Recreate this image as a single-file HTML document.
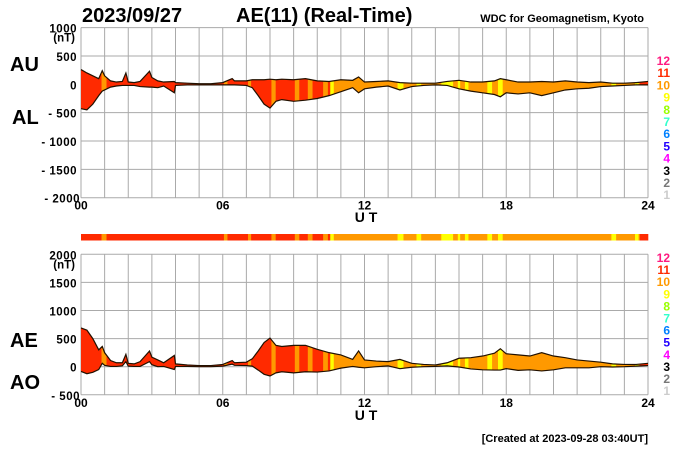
<!DOCTYPE html>
<html><head><meta charset="utf-8"><style>
body{margin:0;background:#fff;}
svg{font-family:"Liberation Sans",sans-serif;}
</style></head><body>
<svg id="chart" width="700" height="450" viewBox="0 0 700 450" xmlns="http://www.w3.org/2000/svg">
<text x="82" y="22" font-size="20" font-weight="bold">2023/09/27</text>
<text x="236" y="22" font-size="20" font-weight="bold">AE(11) (Real-Time)</text>
<text x="644" y="22" font-size="11" font-weight="bold" text-anchor="end">WDC for Geomagnetism, Kyoto</text>
<text x="10" y="71" font-size="20" font-weight="bold">AU</text>
<text x="12" y="124" font-size="20" font-weight="bold">AL</text>
<text x="10" y="347" font-size="20" font-weight="bold">AE</text>
<text x="10" y="389" font-size="20" font-weight="bold">AO</text>
<text x="366" y="222" font-size="14" font-weight="bold" text-anchor="middle">U T</text>
<text x="366" y="420" font-size="14" font-weight="bold" text-anchor="middle">U T</text>
<text x="648" y="442" font-size="11" font-weight="bold" text-anchor="end">[Created at 2023-09-28 03:40UT]</text>
<g id="g"></g>
</svg>
<script>
const hours=[0,0.25,0.5,0.75,0.9,1,1.25,1.5,1.75,1.9,2,2.25,2.5,2.9,3,3.25,3.5,3.95,4,4.5,5,5.5,6,6.4,6.5,7,7.25,7.5,7.75,8,8.25,8.5,9,9.5,10,10.5,11,11.5,11.75,12,12.5,13,13.5,14,14.5,15,15.5,16,16.5,17,17.5,17.75,18,18.5,19,19.5,20,20.5,21,21.5,22,22.5,23,23.5,24];
const auValues=[260,200,150,100,240,150,60,40,50,200,40,30,50,230,120,60,40,50,30,20,10,10,30,100,60,60,80,80,80,90,80,90,80,100,60,50,80,70,130,40,50,60,30,20,20,20,50,70,40,40,60,100,80,40,40,50,40,60,40,30,40,20,20,30,50];
const alValues=[-430,-450,-350,-200,-120,-100,-50,-30,-20,-20,-20,-20,-40,-50,-50,-60,-30,-150,-20,-10,-10,-10,-10,-10,-10,-20,-60,-200,-350,-420,-300,-270,-300,-280,-250,-200,-130,-60,-150,-80,-50,-30,-100,-40,-20,-10,-20,-80,-120,-150,-180,-220,-150,-170,-150,-200,-150,-100,-80,-70,-40,-30,-20,-10,-10];
const segStart=[0,0.87,1.08,6.05,6.2,7.07,7.2,8.06,8.24,9.05,9.24,9.6,9.8,10.25,10.45,10.55,10.7,13.4,13.65,14.2,14.4,15.25,15.75,15.95,16.05,16.25,16.4,17.2,17.4,17.65,17.85,22.45,22.65,23.45,23.6,23.65];
const segCount=[11,10,11,10,11,10,11,10,11,10,11,10,11,10,11,9,10,9,10,9,10,9,10,9,10,9,10,9,10,9,10,9,10,9,10,11];
const topTicks=[1000,500,0,-500,-1000,-1500,-2000];
const botTicks=[2000,1500,1000,500,0,-500];
const xTickLabels=["00","06","12","18","24"];
const legendCounts=[12,11,10,9,8,7,6,5,4,3,2,1];
const colorMap={12:"#ff1a80",11:"#ff2a00",10:"#ff9900",9:"#ffff00",8:"#99ff00",7:"#33ffcc",6:"#0080ff",5:"#2200ff",4:"#ff00ff",3:"#000000",2:"#777777",1:"#cccccc"};
const NS="http://www.w3.org/2000/svg";
const g=document.getElementById('g');
const X0=81,X1=648;
const x=h=>X0+(X1-X0)*h/24;
const yTop=v=>84.3-v*56.7/1000;
const yBot=v=>366.7-v*56.2/1000;
function mk(t,a){const e=document.createElementNS(NS,t);for(const k in a)e.setAttribute(k,a[k]);g.appendChild(e);return e;}
function segEnd(i){return i+1<segStart.length?segStart[i+1]:24;}

function panel(id,yf,vmax,vmin,ticks,upper,lower,legendTop,legendStep){
  const yt=yf(vmax),yb=yf(vmin);
  for(let h=0;h<=24;h++){
    const l=mk('line',{x1:x(h),x2:x(h),y1:yt,y2:yb,stroke:'#aaa','stroke-width':1});
    
    
  }
  ticks.forEach(v=>{
    const l=mk('line',{x1:X0,x2:X1,y1:yf(v),y2:yf(v),stroke:'#aaa','stroke-width':1});
    
    
    const t=mk('text',{x:v===vmin?80:77,y:yf(v)+5,'font-size':11.5,'font-weight':'bold','text-anchor':'end','letter-spacing':'0.5'});
    t.textContent=v<0?'- '+(-v):String(v);
    
    
  });
  const u=mk('text',{x:75,y:yt+14,'font-size':11.5,'font-weight':'bold','text-anchor':'end'});
  u.textContent='(nT)';
  
  
  xTickLabels.forEach((s,i)=>{
    const t=mk('text',{x:x(i*6),y:yb+12,'font-size':12,'font-weight':'bold','text-anchor':'middle'});
    t.textContent=s;
    
    
  });
  let pts=hours.map((h,i)=>x(h)+','+yf(upper[i]));
  let pts2=hours.map((h,i)=>x(h)+','+yf(lower[i])).reverse();
  const cp=mk('clipPath',{id:id+'-clip'});
  const poly=document.createElementNS(NS,'polygon');
  poly.setAttribute('points',pts.concat(pts2).join(' '));
  cp.appendChild(poly);
  segStart.forEach((s,i)=>{
    const r=mk('rect',{x:x(s),y:yt,width:x(segEnd(i))-x(s)+0.3,height:yb-yt,fill:colorMap[segCount[i]],'clip-path':'url(#'+id+'-clip)'});
    
    
  });
  const l1=mk('polyline',{points:pts.join(' '),fill:'none',stroke:'#221100','stroke-width':1.2});
  
  
  const l2=mk('polyline',{points:pts2.join(' '),fill:'none',stroke:'#221100','stroke-width':1.2});
  
  
  legendCounts.forEach((c,i)=>{
    const t=mk('text',{x:670,y:legendTop+i*legendStep,'font-size':12,'font-weight':'bold','text-anchor':'end',fill:colorMap[c]});
    t.textContent=String(c);
    
    
  });
}
panel('top',yTop,1000,-2000,topTicks,auValues,alValues,65,12.2);
const aeValues=auValues.map((a,i)=>a-alValues[i]);
const aoValues=auValues.map((a,i)=>(a+alValues[i])/2);
panel('bottom',yBot,2000,-500,botTicks,aeValues,aoValues,262,12.1);
segStart.forEach((s,i)=>{
  const r=mk('rect',{x:x(s),y:234,width:x(segEnd(i))-x(s)+0.3,height:6.5,fill:colorMap[segCount[i]]});
  
  
});
</script>
</body></html>
